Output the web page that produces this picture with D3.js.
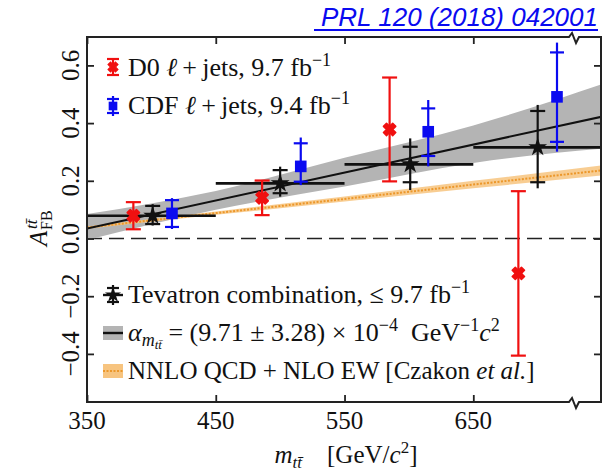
<!DOCTYPE html>
<meta charset="utf-8">
<style>
  body { margin: 0; background: white; }
  svg text { font-family: "Liberation Serif", "DejaVu Serif", serif; fill: #111; }
  .prl { font-family: "Liberation Sans", Arial, sans-serif !important; font-style: italic; fill: #0a0af0 !important; }
</style>
<script src="https://cdn.jsdelivr.net/npm/d3@7"></script>
<body>
<script>

  // axis ticks
  var xTicks = [350, 450, 550, 650];
  var xTickLabels = ["350", "450", "550", "650"];
  var yTicks = [-0.4, -0.2, 0.0, 0.2, 0.4, 0.6];
  var yTickLabels = ["\u22120.4", "\u22120.2", "0.0", "0.2", "0.4", "0.6"];

  // D0 l+jets
  var d0Mass = [386, 486, 585, 685];
  var d0Afb = [0.079, 0.141, 0.378, -0.121];
  var d0Err = [0.047, 0.060, 0.180, 0.285];

  // CDF l+jets (caps = inner error, line = total error)
  var cdfMass = [416, 516, 615, 715];
  var cdfAfb = [0.087, 0.250, 0.370, 0.491];
  var cdfCapUp = [0.046, 0.080, 0.081, 0.154];
  var cdfCapDn = [0.047, 0.053, 0.084, 0.156];
  var cdfTotUp = [0.053, 0.100, 0.110, 0.188];
  var cdfTotDn = [0.054, 0.065, 0.120, 0.190];

  // Tevatron combination
  var tevBinLo = [350, 450, 550, 650];
  var tevBinHi = [450, 550, 650, 760];
  var tevMass = [401, 500, 601, 700];
  var tevAfb = [0.079, 0.191, 0.257, 0.316];
  var tevCapUp = [0.034, 0.046, 0.061, 0.126];
  var tevCapDn = [0.029, 0.034, 0.062, 0.121];
  var tevTotUp = [0.040, 0.058, 0.090, 0.147];
  var tevTotDn = [0.034, 0.046, 0.089, 0.142];

  // linear fit and its band
  var fitMass = [350, 760];
  var fitAfb = [0.035, 0.432];
  var bandMass = [350, 450, 550, 650, 760];
  var bandLo = [-0.005, 0.100, 0.180, 0.262, 0.315];
  var bandHi = [0.085, 0.165, 0.280, 0.392, 0.550];

  // NNLO QCD + NLO EW prediction
  var nnloMass = [350, 450, 550, 650, 760];
  var nnloAfb = [0.038, 0.088, 0.137, 0.187, 0.241];
  var nnloErr = [0.004, 0.006, 0.009, 0.013, 0.018];

  var w = 608, h = 471;
  var pl = 87, pr = 601, pt = 37, pb = 402;

  var x = d3.scaleLinear().domain([350, 650]).range([pl, 473.3]);
  var y = d3.scaleLinear().domain([0, 0.6]).range([238.5, 65.4]);
  var breakX = 573;

  var svg = d3.select("body").append("svg")
              .attr("width", w)
              .attr("height", h);

  svg.append("clipPath").attr("id", "clip")
     .append("rect").attr("x", pl).attr("y", pt).attr("width", pr - pl).attr("height", pb - pt);

  var plot = svg.append("g").attr("clip-path", "url(#clip)");

  // zero line
  plot.append("line")
      .attr("x1", pl).attr("x2", pr)
      .attr("y1", y(0)).attr("y2", y(0))
      .attr("stroke", "#222").attr("stroke-width", 1.6)
      .attr("stroke-dasharray", "15,7");

  // fit band
  var bandArea = d3.area()
      .x(function (d, i) { return x(bandMass[i]); })
      .y0(function (d, i) { return y(bandLo[i]); })
      .y1(function (d, i) { return y(bandHi[i]); })
      .curve(d3.curveMonotoneX);
  plot.append("path").datum(bandMass)
      .attr("d", bandArea)
      .attr("fill", "#b4b4b4");

  // nnlo band + dotted line
  var nnloArea = d3.area()
      .x(function (d, i) { return x(nnloMass[i]); })
      .y0(function (d, i) { return y(nnloAfb[i] - nnloErr[i]); })
      .y1(function (d, i) { return y(nnloAfb[i] + nnloErr[i]); });
  plot.append("path").datum(nnloMass)
      .attr("d", nnloArea)
      .attr("fill", "#f7c47f").attr("opacity", 0.85);
  plot.append("path").datum(nnloMass)
      .attr("d", d3.line().x(function (d, i) { return x(nnloMass[i]); })
                          .y(function (d, i) { return y(nnloAfb[i]); }))
      .attr("fill", "none").attr("stroke", "#ec972a")
      .attr("stroke-width", 2).attr("stroke-dasharray", "2,1.5");

  // fit line
  plot.append("path").datum(fitMass)
      .attr("d", d3.line().x(function (d, i) { return x(fitMass[i]); })
                          .y(function (d, i) { return y(fitAfb[i]); }))
      .attr("fill", "none").attr("stroke", "#111").attr("stroke-width", 2);

  function errorBars(mass, afb, totUp, totDn, capUp, capDn, color, capW) {
    var g = plot.append("g").attr("stroke", color).attr("stroke-width", 2.2);
    g.selectAll(".v").data(mass).enter().append("line")
      .attr("x1", function (d) { return x(d); })
      .attr("x2", function (d) { return x(d); })
      .attr("y1", function (d, i) { return y(afb[i] + totUp[i]); })
      .attr("y2", function (d, i) { return y(afb[i] - totDn[i]); });
    g.selectAll(".cu").data(mass).enter().append("line")
      .attr("x1", function (d) { return x(d) - capW / 2; })
      .attr("x2", function (d) { return x(d) + capW / 2; })
      .attr("y1", function (d, i) { return y(afb[i] + capUp[i]); })
      .attr("y2", function (d, i) { return y(afb[i] + capUp[i]); });
    g.selectAll(".cd").data(mass).enter().append("line")
      .attr("x1", function (d) { return x(d) - capW / 2; })
      .attr("x2", function (d) { return x(d) + capW / 2; })
      .attr("y1", function (d, i) { return y(afb[i] - capDn[i]); })
      .attr("y2", function (d, i) { return y(afb[i] - capDn[i]); });
  }

  // tevatron bin widths
  plot.append("g").selectAll("line").data(tevMass).enter().append("line")
      .attr("x1", function (d, i) { return x(tevBinLo[i]); })
      .attr("x2", function (d, i) { return x(tevBinHi[i]); })
      .attr("y1", function (d, i) { return y(tevAfb[i]); })
      .attr("y2", function (d, i) { return y(tevAfb[i]); })
      .attr("stroke", "#111").attr("stroke-width", 2.6);

  errorBars(tevMass, tevAfb, tevTotUp, tevTotDn, tevCapUp, tevCapDn, "#111", 15);
  errorBars(d0Mass, d0Afb, d0Err, d0Err, d0Err, d0Err, "#f01010", 15);
  errorBars(cdfMass, cdfAfb, cdfTotUp, cdfTotDn, cdfCapUp, cdfCapDn, "#0a0af0", 14);

  var starSym = d3.symbol().type(d3.symbolStar).size(110);
  var crossSym = d3.symbol().type(d3.symbolCross).size(95);
  var squareSym = d3.symbol().type(d3.symbolSquare).size(135);

  plot.append("g").selectAll("path").data(tevMass).enter().append("path")
      .attr("d", starSym)
      .attr("transform", function (d, i) { return "translate(" + x(d) + "," + y(tevAfb[i]) + ")"; })
      .attr("fill", "#111");
  plot.append("g").selectAll("path").data(d0Mass).enter().append("path")
      .attr("d", crossSym)
      .attr("transform", function (d, i) { return "translate(" + x(d) + "," + y(d0Afb[i]) + ") rotate(45)"; })
      .attr("fill", "#f01010").attr("stroke", "#f01010").attr("stroke-width", 1.5).attr("stroke-linejoin", "round");
  plot.append("g").selectAll("path").data(cdfMass).enter().append("path")
      .attr("d", squareSym)
      .attr("transform", function (d, i) { return "translate(" + x(d) + "," + y(cdfAfb[i]) + ")"; })
      .attr("fill", "#0a0af0");

  // frame and ticks
  var axisColor = "#222";
  svg.append("g").attr("transform", "translate(0," + pb + ")")
     .call(d3.axisBottom(x).tickValues(xTicks).tickSize(-7).tickFormat(""));
  svg.append("g").attr("transform", "translate(0," + pt + ")")
     .call(d3.axisTop(x).tickValues(xTicks).tickSize(-7).tickFormat(""));
  svg.append("g").attr("transform", "translate(" + pl + ",0)")
     .call(d3.axisLeft(y).tickValues(yTicks).tickSize(-7).tickFormat(""));
  svg.append("g").attr("transform", "translate(" + pr + ",0)")
     .call(d3.axisRight(y).tickValues(yTicks).tickSize(-7).tickFormat(""));
  svg.selectAll(".domain").remove();
  svg.selectAll(".tick line").attr("stroke", axisColor).attr("stroke-width", 1.8);

  svg.append("rect")
     .attr("x", pl).attr("y", pt).attr("width", pr - pl).attr("height", pb - pt)
     .attr("fill", "none").attr("stroke", axisColor).attr("stroke-width", 2);

  // axis break marks
  [pt, pb].forEach(function (yy) {
    svg.append("line").attr("x1", breakX - 5).attr("x2", breakX + 6)
       .attr("y1", yy).attr("y2", yy).attr("stroke", "white").attr("stroke-width", 4);
    svg.append("path")
       .attr("d", "M" + (breakX - 8) + "," + yy + " L" + (breakX - 4) + "," + yy +
                  " L" + (breakX - 1) + "," + (yy - 4) + " L" + (breakX + 3) + "," + (yy + 6) +
                  " L" + (breakX + 6) + "," + yy + " L" + (breakX + 9) + "," + yy)
       .attr("fill", "none").attr("stroke", axisColor).attr("stroke-width", 2);
  });

  // tick labels
  svg.append("g").selectAll("text").data(xTicks).enter().append("text")
     .attr("x", function (d) { return x(d); })
     .attr("y", 429)
     .attr("text-anchor", "middle")
     .attr("font-size", 25)
     .text(function (d, i) { return xTickLabels[i]; });

  svg.append("g").selectAll("text").data(yTicks).enter().append("text")
     .attr("transform", function (d) { return "translate(79," + y(d) + ") rotate(-90)"; })
     .attr("text-anchor", "middle")
     .attr("font-size", 25)
     .text(function (d, i) { return yTickLabels[i]; });

  // axis titles
  var xt = svg.append("text").attr("x", 346).attr("y", 463)
     .attr("text-anchor", "middle").attr("font-size", 25);
  xt.append("tspan").attr("font-style", "italic").text("m");
  xt.append("tspan").attr("font-style", "italic").attr("font-size", 17).attr("dy", 5).text("tt\u0304");
  xt.append("tspan").attr("dy", -5).text("\u2003[GeV/");
  xt.append("tspan").attr("font-style", "italic").text("c");
  xt.append("tspan").attr("font-size", 17).attr("dy", -10).text("2");
  xt.append("tspan").attr("dy", 10).text("]");

  var yt = svg.append("g").attr("transform", "translate(47,246) rotate(-90)");
  yt.append("text").attr("font-size", 25).attr("font-style", "italic").text("A");
  yt.append("text").attr("x", 17).attr("y", -10).attr("font-size", 17).attr("font-style", "italic").text("tt\u0304");
  yt.append("text").attr("x", 16).attr("y", 5).attr("font-size", 16).text("FB");

  // legend symbols
  var lx = 113;
  var leg = svg.append("g");
  function legErr(cy, color, capHalf, lineHalf, capW) {
    leg.append("line").attr("x1", lx).attr("x2", lx).attr("y1", cy - lineHalf).attr("y2", cy + lineHalf)
       .attr("stroke", color).attr("stroke-width", 2.2);
    [-capHalf, capHalf].forEach(function (o) {
      leg.append("line").attr("x1", lx - capW / 2).attr("x2", lx + capW / 2)
         .attr("y1", cy + o).attr("y2", cy + o).attr("stroke", color).attr("stroke-width", 2.2);
    });
  }
  legErr(67, "#f01010", 8, 8, 12);
  leg.append("path").attr("d", d3.symbol().type(d3.symbolCross).size(60))
     .attr("transform", "translate(" + lx + ",67) rotate(45)")
     .attr("fill", "#f01010").attr("stroke", "#f01010").attr("stroke-width", 1.2);
  legErr(106, "#0a0af0", 7, 10, 12);
  leg.append("path").attr("d", d3.symbol().type(d3.symbolSquare).size(75))
     .attr("transform", "translate(" + lx + ",106)").attr("fill", "#0a0af0");
  legErr(295, "#111", 7, 10, 12);
  leg.append("line").attr("x1", lx - 10).attr("x2", lx + 10).attr("y1", 295).attr("y2", 295)
     .attr("stroke", "#111").attr("stroke-width", 2.4);
  leg.append("path").attr("d", d3.symbol().type(d3.symbolStar).size(80))
     .attr("transform", "translate(" + lx + ",295)").attr("fill", "#111");
  leg.append("rect").attr("x", lx - 10).attr("y", 326).attr("width", 20).attr("height", 14).attr("fill", "#b4b4b4");
  leg.append("line").attr("x1", lx - 10).attr("x2", lx + 10).attr("y1", 333).attr("y2", 333)
     .attr("stroke", "#111").attr("stroke-width", 2.4);
  leg.append("rect").attr("x", lx - 10).attr("y", 364).attr("width", 20).attr("height", 14).attr("fill", "#f7c47f");
  leg.append("line").attr("x1", lx - 10).attr("x2", lx + 10).attr("y1", 371).attr("y2", 371)
     .attr("stroke", "#ec972a").attr("stroke-width", 2).attr("stroke-dasharray", "2,1.5");

  // legend labels
  var tx = 128;
  function sup(t, s) { t.append("tspan").attr("font-size", 18).attr("dy", -10).text(s); }

  var t1 = svg.append("text").attr("x", tx).attr("y", 76).attr("font-size", 26);
  t1.append("tspan").text("D0 ");
  t1.append("tspan").attr("font-style", "italic").text("\u2113");
  t1.append("tspan").text("\u2009+\u2009jets, 9.7 fb");
  sup(t1, "\u22121");

  var t2 = svg.append("text").attr("x", tx).attr("y", 114).attr("font-size", 26);
  t2.append("tspan").text("CDF ");
  t2.append("tspan").attr("font-style", "italic").text("\u2113");
  t2.append("tspan").text("\u2009+\u2009jets, 9.4 fb");
  sup(t2, "\u22121");

  var t3 = svg.append("text").attr("x", tx).attr("y", 303).attr("font-size", 26);
  t3.append("tspan").text("Tevatron combination, \u2264 9.7 fb");
  sup(t3, "\u22121");

  var t4 = svg.append("text").attr("x", tx).attr("y", 341).attr("font-size", 26);
  t4.append("tspan").attr("font-style", "italic").text("\u03b1");
  t4.append("tspan").attr("font-style", "italic").attr("font-size", 18).attr("dy", 5).text("m");
  t4.append("tspan").attr("font-style", "italic").attr("font-size", 13).attr("dy", 3).text("tt\u0304");
  t4.append("tspan").attr("dy", -8).text(" = (9.71 \u00b1 3.28) \u00d7 10");
  sup(t4, "\u22124");
  t4.append("tspan").attr("dy", 10).text("\u2002GeV");
  sup(t4, "\u22121");
  t4.append("tspan").attr("dy", 10).attr("font-style", "italic").text("c");
  sup(t4, "2");

  var t5 = svg.append("text").attr("x", tx).attr("y", 379).attr("font-size", 25);
  t5.append("tspan").text("NNLO QCD + NLO EW [Czakon ");
  t5.append("tspan").attr("font-style", "italic").text("et al.");
  t5.append("tspan").text("]");

  // reference
  svg.append("text").attr("class", "prl")
     .attr("x", 598).attr("y", 26).attr("text-anchor", "end")
     .attr("font-size", 26)
     .text("PRL 120 (2018) 042001");
  svg.append("line").attr("x1", 314).attr("x2", 598).attr("y1", 30).attr("y2", 30)
     .attr("stroke", "#0a0af0").attr("stroke-width", 2);

</script>
</body>
